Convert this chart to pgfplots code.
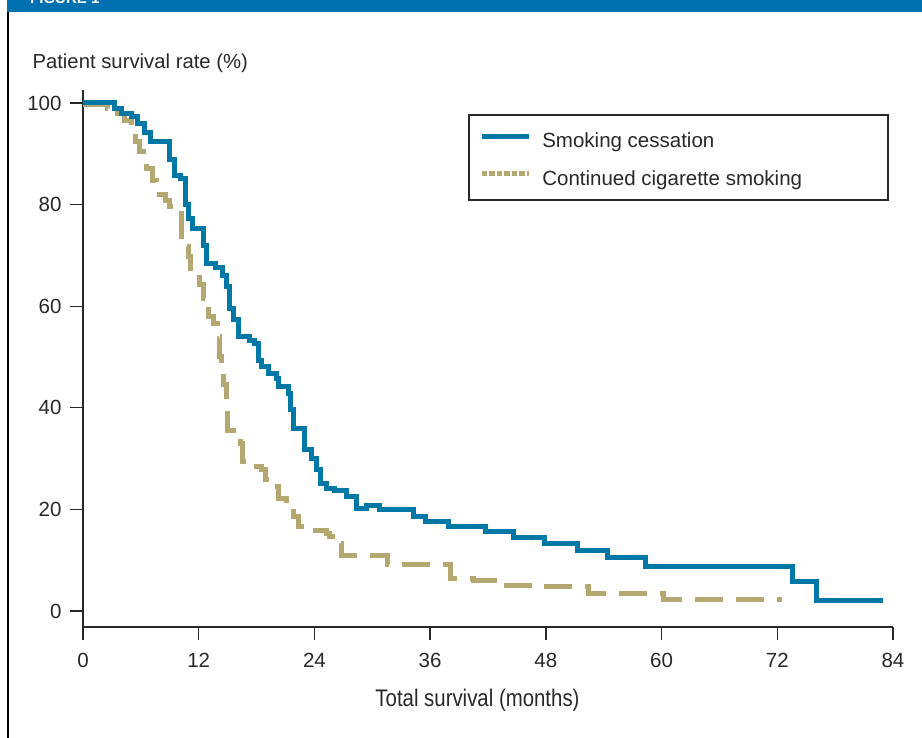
\documentclass[border=0pt]{standalone}
\usepackage{fontspec}
\setmainfont{Liberation Sans}
\newfontfamily\condfont[FakeStretch=0.85]{Liberation Sans}
\usepackage{pgfplots}
\pgfplotsset{compat=1.18}
\definecolor{cblue}{RGB}{0,120,165}
\definecolor{cgold}{RGB}{180,167,112}
\definecolor{hdrblue}{RGB}{0,113,176}
\definecolor{txt}{RGB}{40,40,40}

\pgfplotstableread{
m v
0 100
3.3 99
4.0 98
5.0 97.3
5.7 96
6.4 94.2
7.0 92.5
9.0 88.8
9.5 85.8
10.1 85.2
10.6 80
10.9 77.3
11.4 75.3
12.5 72
12.8 68.4
13.7 67.6
14.5 66
14.9 63.9
15.2 59.6
15.6 57.3
16.1 54
17.3 53.3
17.8 52.7
18.2 49.4
18.5 48.1
19.2 46.8
20.1 45.8
20.3 44.2
21.3 42.9
21.5 39.6
21.8 36
23.0 31.7
23.7 30
24.2 27.8
24.6 25.1
25.3 24.2
26.1 23.8
27.3 22.5
28.4 20.2
29.4 20.7
30.7 19.9
34.3 18.6
35.5 17.7
37.9 16.7
41.7 15.6
44.6 14.4
47.9 13.2
51.3 11.9
54.4 10.6
58.3 8.8
73.6 5.8
76.1 2.0
83.0 2.0
}\cessation

\pgfplotstableread{
m v
0 99.7
2.5 99
3.2 98
4.3 96.5
5.0 95
5.4 92.4
5.9 90.4
6.6 87.1
7.2 84.8
7.6 82
8.6 80.9
9.0 79.6
9.9 78.3
10.2 71.7
10.9 69.7
11.1 66.8
12.1 64.2
12.5 61.5
13.0 57.9
13.5 56.6
13.9 54
14.2 50
14.4 46.8
14.6 44.5
14.9 40.9
15.0 35.5
16.3 33
16.5 29.4
17.3 28.4
18.5 27.8
18.9 25.8
19.6 24.5
20.3 22.2
21.1 20.2
21.8 18.6
22.3 16.6
23.5 15.9
25.3 15.3
25.6 14.6
26.3 13.3
26.8 11
31.6 9.1
38.1 6.4
40.5 6.1
43.3 5.1
47.5 4.8
52.4 3.5
60.2 2.2
72.5 2.2
}\continued

\begin{document}
\begin{tikzpicture}[x=1pt,y=1pt]
\path[use as bounding box] (0,0) rectangle (922,738);
\fill[hdrblue] (7,726.3) rectangle (922,738);
\node[anchor=base west, text=white, font=\bfseries\fontsize{15}{18}\selectfont, inner sep=0pt] at (30,734.7) {FIGURE 1};
\draw[line width=2pt, black] (8,0) -- (8,726.3);

\node[anchor=base west, font=\fontsize{20.3}{24}\selectfont, text=txt, inner sep=0pt] at (32.3,669.7) {Patient survival rate (\%)};
\node[anchor=base, font=\condfont\fontsize{24}{28}\selectfont, text=txt, inner sep=0pt] at (477.5,31.3) {Total survival (months)};

\draw[line width=1.3pt, txt] (469,623) rectangle (888,538);

\begin{axis}[
  at={(83pt,111pt)}, anchor=south west, scale only axis,
  width=810pt, height=537pt,
  xmin=0, xmax=84, ymin=-3.15, ymax=102.56,
  axis lines=left,
  axis line style={-, line width=1.3pt, txt},
  xtick={0,12,24,36,48,60,72,84},
  ytick={0,20,40,60,80,100},
  tick align=outside, major tick length=13pt,
  tick style={line width=1.3pt, txt},
  tick label style={font=\fontsize{20.5}{24}\selectfont, text=txt},
  xticklabel style={yshift=-10pt},
  yticklabel style={xshift=-5pt},
  /pgf/number format/assume math mode=true,
  clip=false,
  legend style={at={(axis cs:41.1,94.1)}, anchor=north west, draw=none, fill=none,
    inner sep=0pt, outer sep=0pt, row sep=21pt, column sep=11pt,
    font=\fontsize{20.5}{24}\selectfont, nodes={inner sep=0pt, text=txt}},
  legend cell align=left,
  legend image code/.code={\draw[#1] (0pt,5pt) -- (47pt,5pt);},
]
\addplot[const plot, cgold, line width=5pt, dash pattern=on 28pt off 13pt, forget plot] table[x=m,y=v] {\continued};
\addplot[const plot, cblue, line width=5pt, forget plot] table[x=m,y=v] {\cessation};
\addlegendimage{cblue, line width=5pt}
\addlegendentry{Smoking cessation}
\addlegendimage{cgold, line width=5pt, dash pattern=on 5.5pt off 2pt}
\addlegendentry{Continued cigarette smoking}
\end{axis}
\end{tikzpicture}
\end{document}
